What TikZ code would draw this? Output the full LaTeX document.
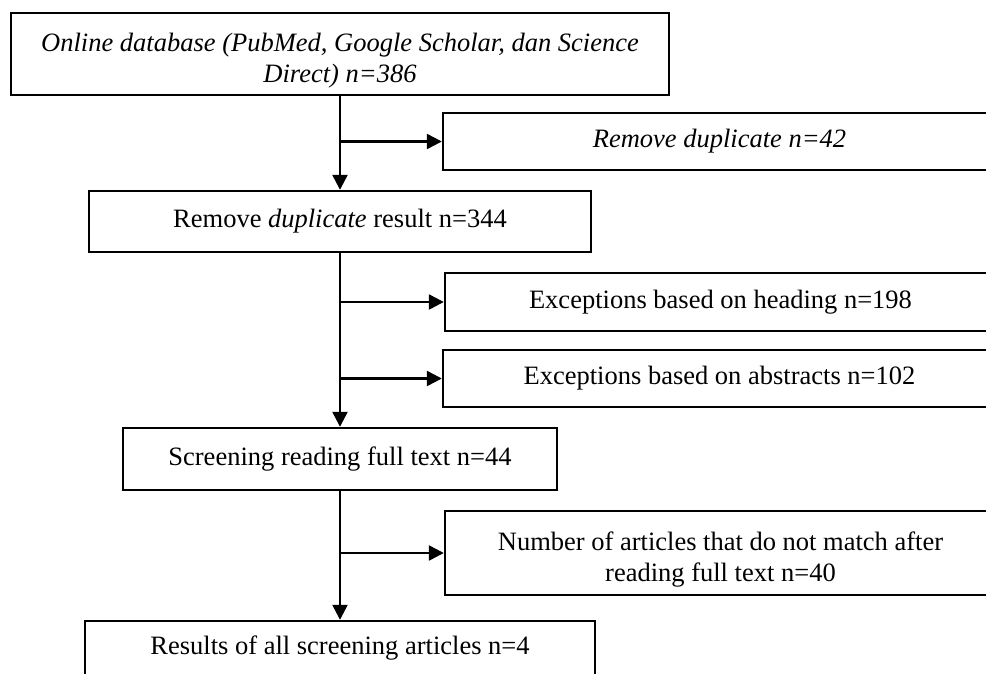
\documentclass[tikz,border=0pt]{standalone}
\usepackage{fontspec}
\setmainfont{Liberation Serif}
\usetikzlibrary{arrows.meta}
\newcommand{\toppad}{\rule{0pt}{32pt}}
\begin{document}
\begin{tikzpicture}[x=1pt,y=-1pt,
  box/.style={draw, line width=2.4pt, inner sep=0pt, align=center,
    font=\fontsize{26.5}{31}\selectfont},
  arr/.style={line width=2.4pt, -{Triangle[length=15pt,width=15pt]}}]
\path[use as bounding box, clip] (0,0) rectangle (986,673);

\node[box, minimum width=658pt, minimum height=82pt] (b1) at (340,54)
  {\toppad\itshape Online database (PubMed, Google Scholar, dan Science\\\itshape Direct) n=386};
\node[box, minimum width=553pt, minimum height=57pt] (d1) at (719.5,141.5)
  {\itshape Remove duplicate n=42};
\node[box, minimum width=502pt, minimum height=61pt] (b2) at (340,221.5)
  {Remove \textit{duplicate} result n=344};
\node[box, minimum width=551pt, minimum height=58pt] (e1) at (720.5,302)
  {Exceptions based on heading n=198};
\node[box, minimum width=553pt, minimum height=57pt] (e2) at (719.5,378.5)
  {Exceptions based on abstracts n=102};
\node[box, minimum width=434pt, minimum height=62pt] (b3) at (340,459)
  {Screening reading full text n=44};
\node[box, minimum width=551pt, minimum height=84pt] (n1) at (720.5,553)
  {\toppad Number of articles that do not match after\\reading full text n=40};
\node[box, minimum width=510pt, minimum height=54pt] (b5) at (340,648)
  {Results of all screening articles n=4};

\draw[arr] (b1.south) -- (b2.north);
\draw[arr] (b1.south |- d1.west) -- (d1.west);
\draw[arr] (b2.south) -- (b3.north);
\draw[arr] (b2.south |- e1.west) -- (e1.west);
\draw[arr] (b2.south |- e2.west) -- (e2.west);
\draw[arr] (b3.south) -- (b5.north);
\draw[arr] (b3.south |- n1.west) -- (n1.west);
\end{tikzpicture}
\end{document}
